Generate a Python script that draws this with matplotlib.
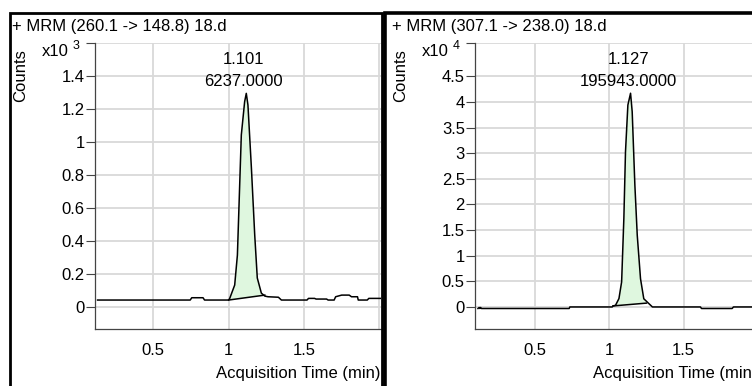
import matplotlib
matplotlib.use("Agg")
import matplotlib.pyplot as plt
from matplotlib.patches import Rectangle

plt.rcParams['font.family'] = ['Liberation Sans', 'DejaVu Sans']

# --- left chromatogram: + MRM (260.1 -> 148.8), counts x10^3
left_title = "+ MRM (260.1 -> 148.8) 18.d"
left_t = [0.13, 0.745, 0.755, 0.83, 0.84, 0.99, 1.0, 1.007, 1.040, 1.058, 1.084, 1.106,
          1.117, 1.128, 1.151, 1.173, 1.190, 1.217, 1.24, 1.261, 1.33, 1.35, 1.52, 1.53,
          1.57, 1.58, 1.65, 1.66, 1.70, 1.71, 1.75, 1.80, 1.815, 1.855, 1.86, 1.92, 1.93, 2.01]
left_y = [0.041, 0.041, 0.055, 0.055, 0.041, 0.041, 0.041, 0.051, 0.132, 0.314, 1.044, 1.246,
          1.297, 1.226, 0.843, 0.436, 0.175, 0.083, 0.065, 0.061, 0.058, 0.041, 0.041, 0.051,
          0.051, 0.047, 0.047, 0.041, 0.041, 0.061, 0.071, 0.071, 0.061, 0.061, 0.041, 0.041, 0.051, 0.051]
left_base = ([1.0, 1.24], [0.041, 0.071])
left_rt, left_area = "1.101", "6237.0000"
left_exp = "3"
left_yticks = [0, 0.2, 0.4, 0.6, 0.8, 1.0, 1.2, 1.4]
left_ytl = ["0", "0.2", "0.4", "0.6", "0.8", "1", "1.2", "1.4"]

# --- right chromatogram: + MRM (307.1 -> 238.0), counts x10^4
right_title = "+ MRM (307.1 -> 238.0) 18.d"
right_t = [0.117, 0.125, 0.13, 0.135, 0.14, 0.73, 0.735, 1.02, 1.025, 1.042, 1.065, 1.083,
           1.098, 1.109, 1.125, 1.143, 1.154, 1.172, 1.188, 1.210, 1.232, 1.266, 1.29,
           1.613, 1.62, 1.826, 1.835, 2.0]
right_y = [-0.03, -0.01, -0.03, -0.01, -0.03, -0.03, 0.0, 0.0, 0.02, 0.033, 0.164, 0.49,
           1.73, 3.03, 3.94, 4.17, 3.81, 2.38, 1.40, 0.55, 0.16, 0.066, 0.0,
           0.0, -0.03, -0.03, 0.0, 0.0]
right_base = ([1.025, 1.25], [0.02, 0.075])
right_rt, right_area = "1.127", "195943.0000"
right_exp = "4"
right_yticks = [0, 0.5, 1, 1.5, 2, 2.5, 3, 3.5, 4, 4.5]
right_ytl = ["0", "0.5", "1", "1.5", "2", "2.5", "3", "3.5", "4", "4.5"]

# the label of the 2 min gridline falls under the panel edge
xticks = [0.5, 1.0, 1.5, 2.0]
xtl = ["0.5", "1", "1.5", ""]

W, H = 752, 386
fig = plt.figure(figsize=(W / 100, H / 100), dpi=100)

# panel frames
fig.add_artist(Rectangle((9.5 / W, -0.1), (381.5 - 9.5) / W, 1.1 - 13 / H,
                         transform=fig.transFigure, fill=False, ec="black", lw=2.0))
fig.add_artist(Rectangle((385 / W, -0.1), 0.6, 1.1 - 13 / H,
                         transform=fig.transFigure, fill=False, ec="black", lw=2.6))


def panel(x0, x1, xlim, ylim, t, y, base, rt, area, title, exp, yticks, ytl):
    ax = fig.add_axes([x0 / W, (H - 329) / H, (x1 - x0) / W, 286 / H])
    ax.set_xlim(xlim)
    ax.set_ylim(ylim)

    # integrated peak region
    pk_t = [a for a in t if base[0][0] <= a <= base[0][1]]
    pk_y = [b for a, b in zip(t, y) if base[0][0] <= a <= base[0][1]]
    ax.fill(pk_t + [base[0][1], base[0][0]], pk_y + [base[1][1], base[1][0]],
            color="#dff7df", lw=0, zorder=2)
    ax.plot(base[0], base[1], color="black", lw=1.1, zorder=3)
    ax.plot(t, y, color="black", lw=1.1, zorder=3)

    ax.set_xticks(xticks)
    ax.set_xticklabels(xtl)
    ax.set_yticks(yticks + [ylim[1]])
    ax.set_yticklabels(ytl + [""])
    ax.grid(True, color="#d9d9d9", lw=1.3)
    ax.set_axisbelow(True)
    for s in ["top", "right"]:
        ax.spines[s].set_visible(False)
    for s in ["left", "bottom"]:
        ax.spines[s].set_color("#444444")
        ax.spines[s].set_linewidth(0.9)
    ax.tick_params(axis="y", length=6.5, width=0.8, color="#444444", pad=0.8, labelsize=12)
    ax.tick_params(axis="x", length=0, pad=10, labelsize=12)
    ax.set_xlabel("Acquisition Time (min)", loc="right", fontsize=12, labelpad=5.5)

    ax.annotate(title, xy=(0, 1), xycoords="axes fraction", xytext=(-83, 16),
                textcoords="offset pixels", ha="left", va="center", fontsize=12,
                annotation_clip=False)
    ax.annotate("Counts", xy=(0, 1), xycoords="axes fraction", xytext=(-74, -33),
                textcoords="offset pixels", ha="center", va="center", rotation=90,
                fontsize=12, annotation_clip=False)
    ax.annotate("x10", xy=(0, 1), xycoords="axes fraction", xytext=(-26, -9),
                textcoords="offset pixels", ha="right", va="center", fontsize=12,
                annotation_clip=False)
    ax.annotate(exp, xy=(0, 1), xycoords="axes fraction", xytext=(-22, -3),
                textcoords="offset pixels", ha="left", va="center", fontsize=9,
                annotation_clip=False)

    tr = ax.get_xaxis_transform()
    ax.annotate(rt, xy=(float(rt), 1), xycoords=tr, xytext=(0, -16),
                textcoords="offset pixels", ha="center", va="center", fontsize=12)
    ax.annotate(area, xy=(float(rt), 1), xycoords=tr, xytext=(0, -39),
                textcoords="offset pixels", ha="center", va="center", fontsize=12)
    return ax


panel(95, 381, (0.113, 2.011), (-0.135, 1.603), left_t, left_y, left_base,
      left_rt, left_area, left_title, left_exp, left_yticks, left_ytl)
panel(475, 758, (0.097, 1.996), (-0.43, 5.15), right_t, right_y, right_base,
      right_rt, right_area, right_title, right_exp, right_yticks, right_ytl)

fig.savefig("out.png", dpi=100)
